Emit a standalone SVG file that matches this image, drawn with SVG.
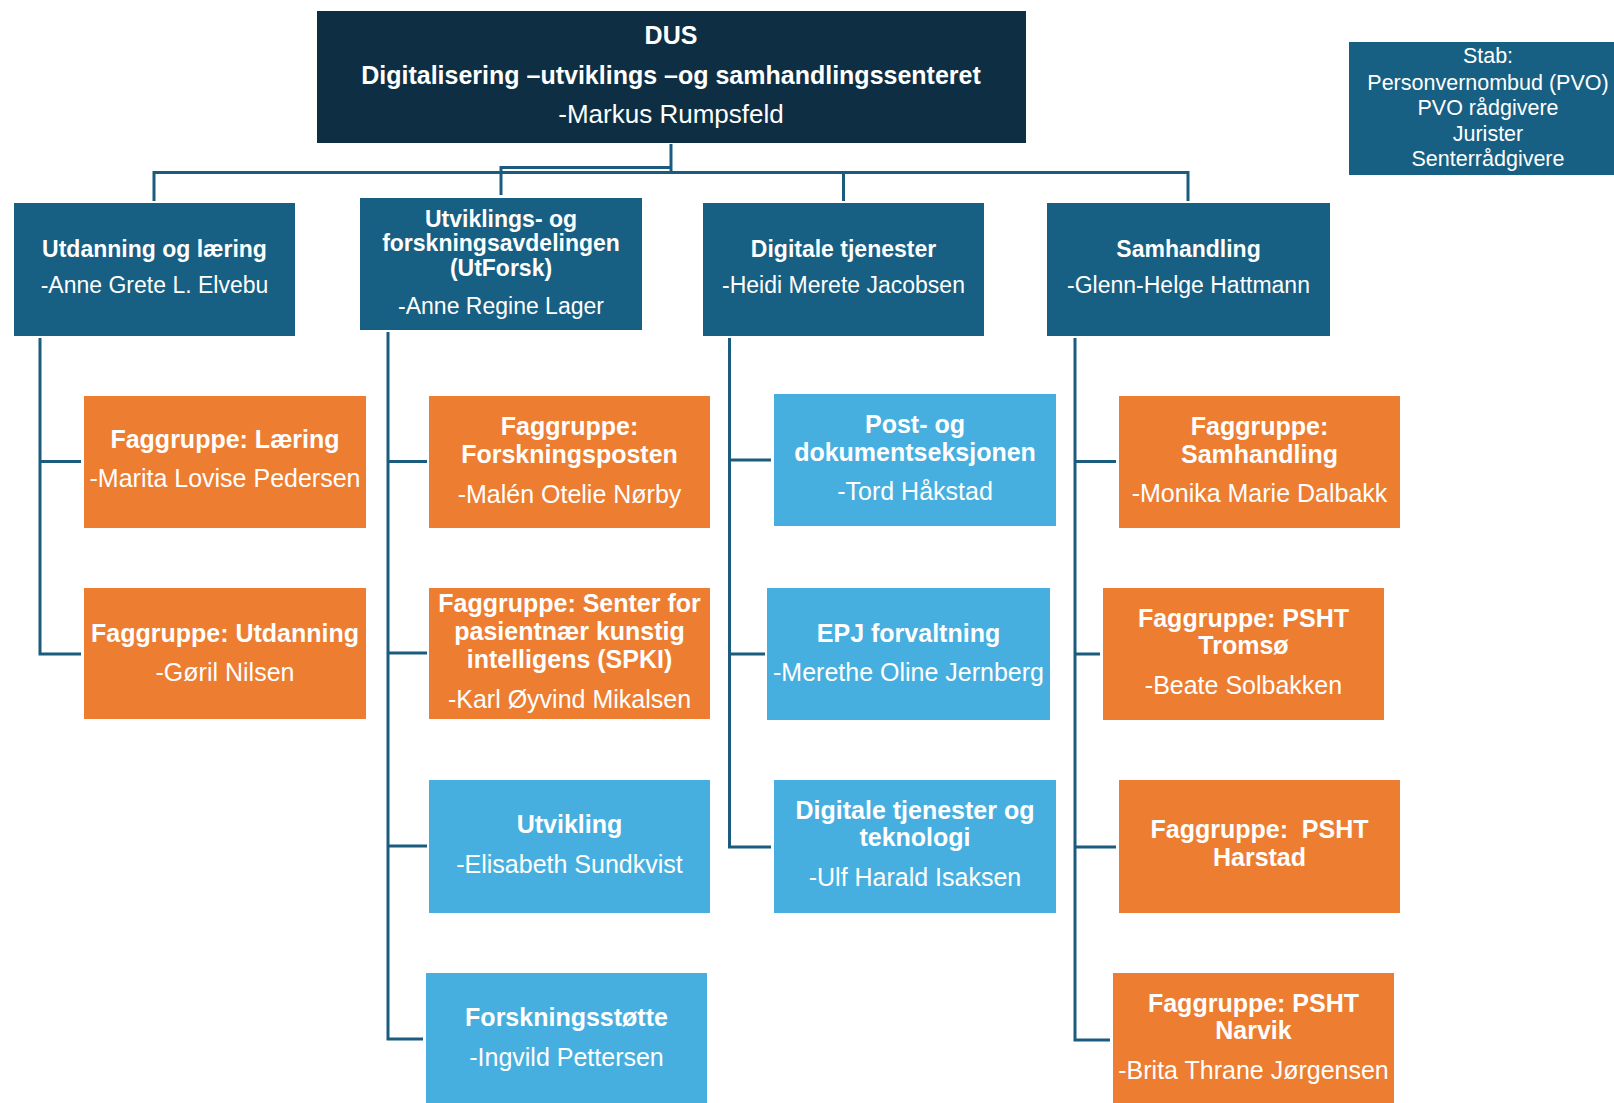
<svg xmlns="http://www.w3.org/2000/svg" width="1614" height="1103" viewBox="0 0 1614 1103">
<style>
.dark{fill:#0E2F43}
.mid{fill:#176083}
.org{fill:#ED7D31}
.lt{fill:#47AFE0}
text{font-family:"Liberation Sans",Arial,sans-serif;fill:#fff;text-anchor:middle;font-size:25px}
.b{font-weight:bold}
.l2{font-size:23px}
.st{font-size:21.5px}
.conn{fill:none;stroke:#1B5C7E;stroke-width:3}
</style>
<rect width="1614" height="1103" fill="#fff"/>
<g id="connectors" class="conn">
<path d="M671 144V173"/>
<path d="M154 201V172.5H1188V201"/>
<path d="M843.5 172.5V201"/>
<path d="M501 195V167.5H671"/>
<path d="M40 338V654H81M40 461.5H81"/>
<path d="M388 332V1039H423M388 461.5H427M388 653H427M388 846H427"/>
<path d="M729.5 338V847H771M729.5 460H771M729.5 654H765"/>
<path d="M1075 338V1040H1110M1075 461.5H1116M1075 654H1100M1075 847H1116"/>
</g>
<g id="dus">
<rect class="dark" x="317" y="11" width="709" height="132"/>
<text class="b" x="671" y="44">DUS</text>
<text class="b" x="671" y="84">Digitalisering –utviklings –og samhandlingssenteret</text>
<text x="671" y="123" style="font-size:26px">-Markus Rumpsfeld</text>
</g>
<g id="stab">
<rect class="mid" x="1349" y="42" width="280" height="133"/>
<text class="st" x="1488" y="63">Stab:</text>
<text class="st" x="1488" y="89.5">Personvernombud (PVO)</text>
<text class="st" x="1488" y="115">PVO rådgivere</text>
<text class="st" x="1488" y="140.5">Jurister</text>
<text class="st" x="1488" y="166">Senterrådgivere</text>
</g>
<g id="utdanning-og-laering">
<rect class="mid" x="14" y="203" width="281" height="133"/>
<text class="b l2" x="154.5" y="257">Utdanning og læring</text>
<text class="l2" x="154.5" y="293">-Anne Grete L. Elvebu</text>
</g>
<g id="utforsk">
<rect class="mid" x="360" y="198" width="282" height="132"/>
<text class="b l2" x="501" y="227">Utviklings- og</text>
<text class="b l2" x="501" y="251">forskningsavdelingen</text>
<text class="b l2" x="501" y="275.5">(UtForsk)</text>
<text class="l2" x="501" y="313.5">-Anne Regine Lager</text>
</g>
<g id="digitale-tjenester">
<rect class="mid" x="703" y="203" width="281" height="133"/>
<text class="b l2" x="843.5" y="257">Digitale tjenester</text>
<text class="l2" x="843.5" y="293">-Heidi Merete Jacobsen</text>
</g>
<g id="samhandling">
<rect class="mid" x="1047" y="203" width="283" height="133"/>
<text class="b l2" x="1188.5" y="257">Samhandling</text>
<text class="l2" x="1188.5" y="293">-Glenn-Helge Hattmann</text>
</g>
<g id="fg-laering">
<rect class="org" x="84" y="396" width="282" height="132"/>
<text class="b" x="225" y="448">Faggruppe: Læring</text>
<text x="225" y="487">-Marita Lovise Pedersen</text>
</g>
<g id="fg-utdanning">
<rect class="org" x="84" y="588" width="282" height="131"/>
<text class="b" x="225" y="641.5">Faggruppe: Utdanning</text>
<text x="225" y="680.5">-Gøril Nilsen</text>
</g>
<g id="fg-forskningsposten">
<rect class="org" x="429" y="396" width="281" height="132"/>
<text class="b" x="569.5" y="435">Faggruppe:</text>
<text class="b" x="569.5" y="462.5">Forskningsposten</text>
<text x="569.5" y="502.5">-Malén Otelie Nørby</text>
</g>
<g id="fg-spki">
<rect class="org" x="429" y="588" width="281" height="131"/>
<text class="b" x="569.5" y="612">Faggruppe: Senter for</text>
<text class="b" x="569.5" y="640">pasientnær kunstig</text>
<text class="b" x="569.5" y="667.5">intelligens (SPKI)</text>
<text x="569.5" y="707.5">-Karl Øyvind Mikalsen</text>
</g>
<g id="utvikling">
<rect class="lt" x="429" y="780" width="281" height="133"/>
<text class="b" x="569.5" y="833">Utvikling</text>
<text x="569.5" y="872.5">-Elisabeth Sundkvist</text>
</g>
<g id="forskningsstotte">
<rect class="lt" x="426" y="973" width="281" height="132"/>
<text class="b" x="566.5" y="1026">Forskningsstøtte</text>
<text x="566.5" y="1065.5">-Ingvild Pettersen</text>
</g>
<g id="post-og-dokument">
<rect class="lt" x="774" y="394" width="282" height="132"/>
<text class="b" x="915" y="433">Post- og</text>
<text class="b" x="915" y="460.5">dokumentseksjonen</text>
<text x="915" y="500">-Tord Håkstad</text>
</g>
<g id="epj">
<rect class="lt" x="767" y="588" width="283" height="132"/>
<text class="b" x="908.5" y="641.5">EPJ forvaltning</text>
<text x="908.5" y="680.5">-Merethe Oline Jernberg</text>
</g>
<g id="digitale-tjenester-teknologi">
<rect class="lt" x="774" y="780" width="282" height="133"/>
<text class="b" x="915" y="819">Digitale tjenester og</text>
<text class="b" x="915" y="846">teknologi</text>
<text x="915" y="885.5">-Ulf Harald Isaksen</text>
</g>
<g id="fg-samhandling">
<rect class="org" x="1119" y="396" width="281" height="132"/>
<text class="b" x="1259.5" y="435">Faggruppe:</text>
<text class="b" x="1259.5" y="462.5">Samhandling</text>
<text x="1259.5" y="501.5">-Monika Marie Dalbakk</text>
</g>
<g id="fg-psht-tromso">
<rect class="org" x="1103" y="588" width="281" height="132"/>
<text class="b" x="1243.5" y="626.5">Faggruppe: PSHT</text>
<text class="b" x="1243.5" y="654">Tromsø</text>
<text x="1243.5" y="694">-Beate Solbakken</text>
</g>
<g id="fg-psht-harstad">
<rect class="org" x="1119" y="780" width="281" height="133"/>
<text class="b" x="1259.5" y="838" xml:space="preserve">Faggruppe:  PSHT</text>
<text class="b" x="1259.5" y="866">Harstad</text>
</g>
<g id="fg-psht-narvik">
<rect class="org" x="1113" y="973" width="281" height="132"/>
<text class="b" x="1253.5" y="1011.5">Faggruppe: PSHT</text>
<text class="b" x="1253.5" y="1039">Narvik</text>
<text x="1253.5" y="1079">-Brita Thrane Jørgensen</text>
</g>
</svg>
